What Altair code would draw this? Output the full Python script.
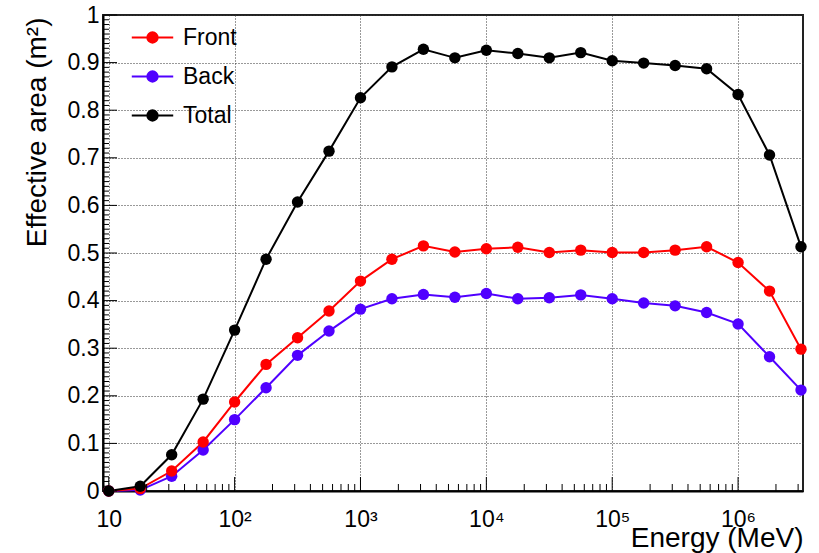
import altair as alt
import pandas as pd

# ---- data ----
energy = [10, 17.78, 31.62, 56.23, 100, 177.8, 316.2, 562.3, 1000, 1778, 3162, 5623,
          1.0e4, 1.778e4, 3.162e4, 5.623e4, 1.0e5, 1.778e5, 3.162e5, 5.623e5,
          1.0e6, 1.778e6, 3.162e6]
front = [0.0, 0.005, 0.042, 0.103, 0.187, 0.266, 0.322, 0.378, 0.441, 0.487, 0.515, 0.502,
         0.509, 0.512, 0.501, 0.506, 0.501, 0.501, 0.506, 0.513, 0.480, 0.420, 0.298]
back = [0.0, 0.002, 0.031, 0.086, 0.150, 0.217, 0.285, 0.336, 0.382, 0.404, 0.413, 0.407,
        0.415, 0.404, 0.406, 0.412, 0.404, 0.395, 0.389, 0.375, 0.351, 0.282, 0.212]
total = [0.0, 0.010, 0.076, 0.193, 0.338, 0.487, 0.607, 0.714, 0.826, 0.891, 0.928, 0.910,
         0.926, 0.919, 0.910, 0.921, 0.904, 0.899, 0.894, 0.887, 0.833, 0.706, 0.513]

series_names = ["Front", "Back", "Total"]
series_colors = ["#ff0000", "#5000ff", "#000000"]

x_major = [10, 100, 1000, 10000, 100000, 1000000]
y_major = [0, 0.1, 0.2, 0.3, 0.4, 0.5, 0.6, 0.7, 0.8, 0.9, 1.0]

x_min_dom, x_max_dom = 9, 3.28e6
x_minor = [m * 10 ** n for n in range(1, 7) for m in range(2, 10) if m * 10 ** n <= x_max_dom]
y_minor = [i / 100 for i in range(1, 100) if i % 10]

rows = []
for name, vals in [("Back", back), ("Front", front), ("Total", total)]:
    for e, v in zip(energy, vals):
        rows.append({"series": name, "E": e, "A": v})
df = pd.DataFrame(rows)

W, H = 700, 476
FONT = "Liberation Sans"

xscale = alt.Scale(type="log", domain=[x_min_dom, x_max_dom], nice=False)
yscale = alt.Scale(domain=[0, 1], nice=False, zero=False)
cscale = alt.Scale(domain=series_names, range=series_colors)

label_expr = ("datum.value < 50 ? '10' : datum.value < 500 ? '10\u00b2' : "
              "datum.value < 5000 ? '10\u00b3' : datum.value < 50000 ? '10\u2074' : "
              "datum.value < 500000 ? '10\u2075' : '10\u2076'")

xaxis = alt.Axis(
    values=x_major, labelExpr=label_expr,
    grid=True, gridDash=[1, 2], gridColor="#333", gridWidth=1,
    ticks=False, domain=True, domainColor="black", domainWidth=2,
    labelFont=FONT, labelFontSize=23, labelPadding=17, labelColor="black",
    labelFlush=False, labelOverlap=False,
    title="Energy (MeV)", titleFont=FONT, titleFontSize=28, titleFontWeight="normal",
    titleX=W, titleY=55, titleAlign="right", titleBaseline="alphabetic", titleColor="black",
)
yaxis = alt.Axis(
    values=y_major, format="~g",
    grid=True, gridDash=[1, 2], gridColor="#333", gridWidth=1,
    ticks=False, domain=True, domainColor="black", domainWidth=2,
    labelFont=FONT, labelFontSize=23, labelPadding=4, labelColor="black",
    labelFlush=False, labelOverlap=False,
    title="Effective area (m\u00b2)", titleFont=FONT, titleFontSize=28, titleFontWeight="normal",
    titleX=-58, titleY=2, titleAlign="right", titleBaseline="alphabetic", titleAngle=270,
    titleColor="black",
)

legend_path = ("M-1.12,0L1.12,0M-0.28,0A0.28,0.28,0,1,1,0.28,0"
               "A0.28,0.28,0,1,1,-0.28,0Z")
leg = alt.Legend(
    orient="none", legendX=30, legendY=3, padding=0,
    symbolType=legend_path, symbolSize=1369, symbolStrokeWidth=2,
    labelFont=FONT, labelFontSize=23, labelColor="black", labelOffset=11,
    rowPadding=7, symbolOpacity=1,
)

base = alt.Chart(df)

lines = base.mark_line(strokeWidth=2).encode(
    x=alt.X("E:Q", scale=xscale, axis=xaxis),
    y=alt.Y("A:Q", scale=yscale, axis=yaxis),
    color=alt.Color("series:N", scale=cscale, legend=leg, title=""),
    detail="series:N",
)

points = base.mark_point(filled=True, size=130, opacity=1).encode(
    x=alt.X("E:Q", scale=xscale),
    y=alt.Y("A:Q", scale=yscale),
    color=alt.Color("series:N", scale=cscale, legend=leg, title=""),
)

# inward axis ticks (ROOT style)
xmaj_t = alt.Chart(pd.DataFrame({"E": x_major})).mark_rule(color="black", strokeWidth=1).encode(
    x=alt.X("E:Q", scale=xscale), y=alt.value(H), y2=alt.value(H - 14))
xmin_t = alt.Chart(pd.DataFrame({"E": x_minor})).mark_rule(color="black", strokeWidth=1).encode(
    x=alt.X("E:Q", scale=xscale), y=alt.value(H), y2=alt.value(H - 7))
ymaj_t = alt.Chart(pd.DataFrame({"A": y_major})).mark_rule(color="black", strokeWidth=1).encode(
    y=alt.Y("A:Q", scale=yscale), x=alt.value(0), x2=alt.value(14))
ymin_t = alt.Chart(pd.DataFrame({"A": y_minor})).mark_rule(color="black", strokeWidth=1).encode(
    y=alt.Y("A:Q", scale=yscale), x=alt.value(0), x2=alt.value(6))

chart = alt.layer(lines, points, xmin_t, xmaj_t, ymin_t, ymaj_t).properties(
    width=W, height=H,
    autosize=alt.AutoSizeParams(type="none"),
    padding={"left": 103, "top": 15, "right": 16, "bottom": 62},
    background="white",
).configure_view(
    stroke="#222", strokeWidth=2
)

chart.save("out.html", embed_options={"renderer": "svg", "actions": False})
